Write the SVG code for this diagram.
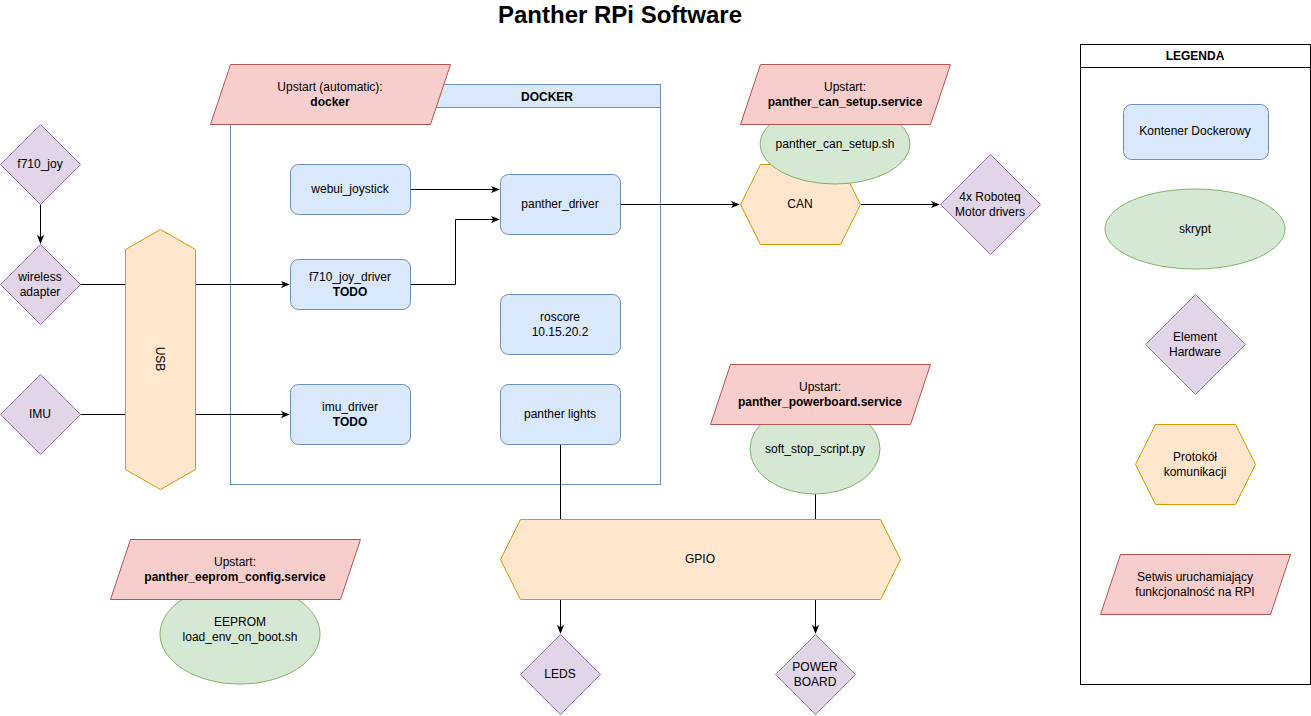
<svg xmlns="http://www.w3.org/2000/svg" width="1311" height="716" viewBox="0 0 1311 716">
<style>
text{font-family:"Liberation Sans",Arial,sans-serif;font-size:12px;fill:#000;text-anchor:middle;dominant-baseline:central}
.b{font-weight:bold}
.blue{fill:#dae8fc;stroke:#6c8ebf;stroke-width:1}
.green{fill:#d5e8d4;stroke:#82b366;stroke-width:1}
.purple{fill:#e1d5e7;stroke:#9673a6;stroke-width:1}
.orange{fill:#ffe6cc;stroke:#d79b00;stroke-width:1}
.red{fill:#f8cecc;stroke:#b85450;stroke-width:1}
.edge{fill:none;stroke:#000;stroke-width:1}
</style>
<defs>
<marker id="arr" viewBox="0 0 10 10" refX="9" refY="5" markerWidth="9" markerHeight="9" markerUnits="userSpaceOnUse" orient="auto">
<path d="M0,1 L10,5 L0,9 L2.5,5 Z" fill="#000"/>
</marker>
</defs>
<rect width="1311" height="716" fill="#fff"/>
<text x="620" y="14" class="b" style="font-size:24px">Panther RPi Software</text>

<g id="docker">
<rect x="230.5" y="84.5" width="430" height="400" fill="none" stroke="#6c8ebf"/>
<rect x="230.5" y="84.5" width="430" height="23" class="blue"/>
<text x="547" y="97" class="b">DOCKER</text>
</g>

<g id="connectors">
<path class="edge" d="M40.5,204 V243" marker-end="url(#arr)"/>
<path class="edge" d="M80,284.5 H289" marker-end="url(#arr)"/>
<path class="edge" d="M80,414.5 H289" marker-end="url(#arr)"/>
<path class="edge" d="M410,189.5 H499" marker-end="url(#arr)"/>
<path class="edge" d="M410,284.5 H455.5 V219.5 H499" marker-end="url(#arr)"/>
<path class="edge" d="M620,204.5 H739" marker-end="url(#arr)"/>
<path class="edge" d="M860,204.5 H939" marker-end="url(#arr)"/>
<path class="edge" d="M560.5,444 V633" marker-end="url(#arr)"/>
<path class="edge" d="M815.5,494 V633" marker-end="url(#arr)"/>
</g>

<g id="upstart_docker">
<polygon class="red" points="230.5,64.5 450.5,64.5 430.5,124.5 210.5,124.5"/>
<text x="330" y="87">Upstart (automatic):</text>
<text x="330" y="102" class="b">docker</text>
</g>

<g id="webui_joystick">
<rect x="290.5" y="164.5" width="120" height="50" rx="8" class="blue"/>
<text x="350" y="189">webui_joystick</text>
</g>
<g id="panther_driver">
<rect x="500.5" y="174.5" width="120" height="60" rx="8" class="blue"/>
<text x="560" y="204">panther_driver</text>
</g>
<g id="f710_joy_driver">
<rect x="290.5" y="259.5" width="120" height="50" rx="8" class="blue"/>
<text x="350" y="277">f710_joy_driver</text>
<text x="350" y="292" class="b">TODO</text>
</g>
<g id="roscore">
<rect x="500.5" y="294.5" width="120" height="60" rx="8" class="blue"/>
<text x="560" y="317">roscore</text>
<text x="560" y="332">10.15.20.2</text>
</g>
<g id="imu_driver">
<rect x="290.5" y="384.5" width="120" height="60" rx="8" class="blue"/>
<text x="350" y="407">imu_driver</text>
<text x="350" y="422" class="b">TODO</text>
</g>
<g id="panther_lights">
<rect x="500.5" y="384.5" width="120" height="60" rx="8" class="blue"/>
<text x="560" y="414">panther lights</text>
</g>

<g id="f710_joy">
<polygon class="purple" points="40.5,124.5 80.5,164.5 40.5,204.5 0.5,164.5"/>
<text x="40" y="164">f710_joy</text>
</g>
<g id="wireless_adapter">
<polygon class="purple" points="40.5,244.5 80.5,284.5 40.5,324.5 0.5,284.5"/>
<text x="40" y="277">wireless</text>
<text x="40" y="292">adapter</text>
</g>
<g id="imu">
<polygon class="purple" points="40.5,374.5 80.5,414.5 40.5,454.5 0.5,414.5"/>
<text x="40" y="414">IMU</text>
</g>
<g id="usb">
<polygon class="orange" points="160.5,229.5 195.5,249.5 195.5,469.5 160.5,489.5 125.5,469.5 125.5,249.5"/>
<text x="0" y="0" transform="translate(160,359) rotate(90)">USB</text>
</g>

<g id="can">
<polygon class="orange" points="760.5,164.5 840.5,164.5 860.5,204.5 840.5,244.5 760.5,244.5 740.5,204.5"/>
<text x="800" y="204">CAN</text>
</g>
<g id="panther_can_setup_sh">
<ellipse cx="835" cy="144" rx="75" ry="40" class="green"/>
<text x="835" y="144">panther_can_setup.sh</text>
</g>
<g id="upstart_can">
<polygon class="red" points="760.5,64.5 950.5,64.5 930.5,124.5 740.5,124.5"/>
<text x="845" y="87">Upstart:</text>
<text x="845" y="102" class="b">panther_can_setup.service</text>
</g>
<g id="roboteq">
<polygon class="purple" points="990.5,154.5 1040.5,204.5 990.5,254.5 940.5,204.5"/>
<text x="990" y="197">4x Roboteq</text>
<text x="990" y="212">Motor drivers</text>
</g>

<g id="soft_stop_script">
<ellipse cx="815" cy="449" rx="65" ry="45" class="green"/>
<text x="815" y="449">soft_stop_script.py</text>
</g>
<g id="upstart_powerboard">
<polygon class="red" points="730.5,364.5 930.5,364.5 910.5,424.5 710.5,424.5"/>
<text x="820" y="387">Upstart:</text>
<text x="820" y="402" class="b">panther_powerboard.service</text>
</g>

<g id="gpio">
<polygon class="orange" points="520.5,519.5 880.5,519.5 900.5,559.5 880.5,599.5 520.5,599.5 500.5,559.5"/>
<text x="700" y="559">GPIO</text>
</g>
<g id="leds">
<polygon class="purple" points="560.5,634.5 600.5,674.5 560.5,714.5 520.5,674.5"/>
<text x="560" y="674">LEDS</text>
</g>
<g id="power_board">
<polygon class="purple" points="815.5,634.5 855.5,674.5 815.5,714.5 775.5,674.5"/>
<text x="815" y="667">POWER</text>
<text x="815" y="682">BOARD</text>
</g>

<g id="eeprom">
<ellipse cx="240" cy="634" rx="80" ry="50" class="green"/>
<text x="240" y="622">EEPROM</text>
<text x="240" y="637">load_env_on_boot.sh</text>
</g>
<g id="upstart_eeprom">
<polygon class="red" points="130.5,539.5 360.5,539.5 340.5,599.5 110.5,599.5"/>
<text x="235" y="562">Upstart:</text>
<text x="235" y="577" class="b">panther_eeprom_config.service</text>
</g>

<g id="legend">
<rect x="1080.5" y="44.5" width="230" height="640" fill="#fff" stroke="#000"/>
<line x1="1080.5" y1="67.5" x2="1310.5" y2="67.5" stroke="#000"/>
<text x="1195" y="56" class="b">LEGENDA</text>
<rect x="1123.5" y="104.5" width="145" height="55" rx="8" class="blue"/>
<text x="1195" y="131">Kontener Dockerowy</text>
<ellipse cx="1195" cy="229" rx="90" ry="40" class="green"/>
<text x="1195" y="229">skrypt</text>
<polygon class="purple" points="1195.5,294.5 1245.5,344.5 1195.5,394.5 1145.5,344.5"/>
<text x="1195" y="337">Element</text>
<text x="1195" y="352">Hardware</text>
<polygon class="orange" points="1155.5,424.5 1235.5,424.5 1255.5,464.5 1235.5,504.5 1155.5,504.5 1135.5,464.5"/>
<text x="1195" y="457">Protokół</text>
<text x="1195" y="472">komunikacji</text>
<polygon class="red" points="1120.5,554.5 1290.5,554.5 1270.5,614.5 1100.5,614.5"/>
<text x="1195" y="577">Setwis uruchamiający</text>
<text x="1195" y="592">funkcjonalność na RPI</text>
</g>
</svg>
